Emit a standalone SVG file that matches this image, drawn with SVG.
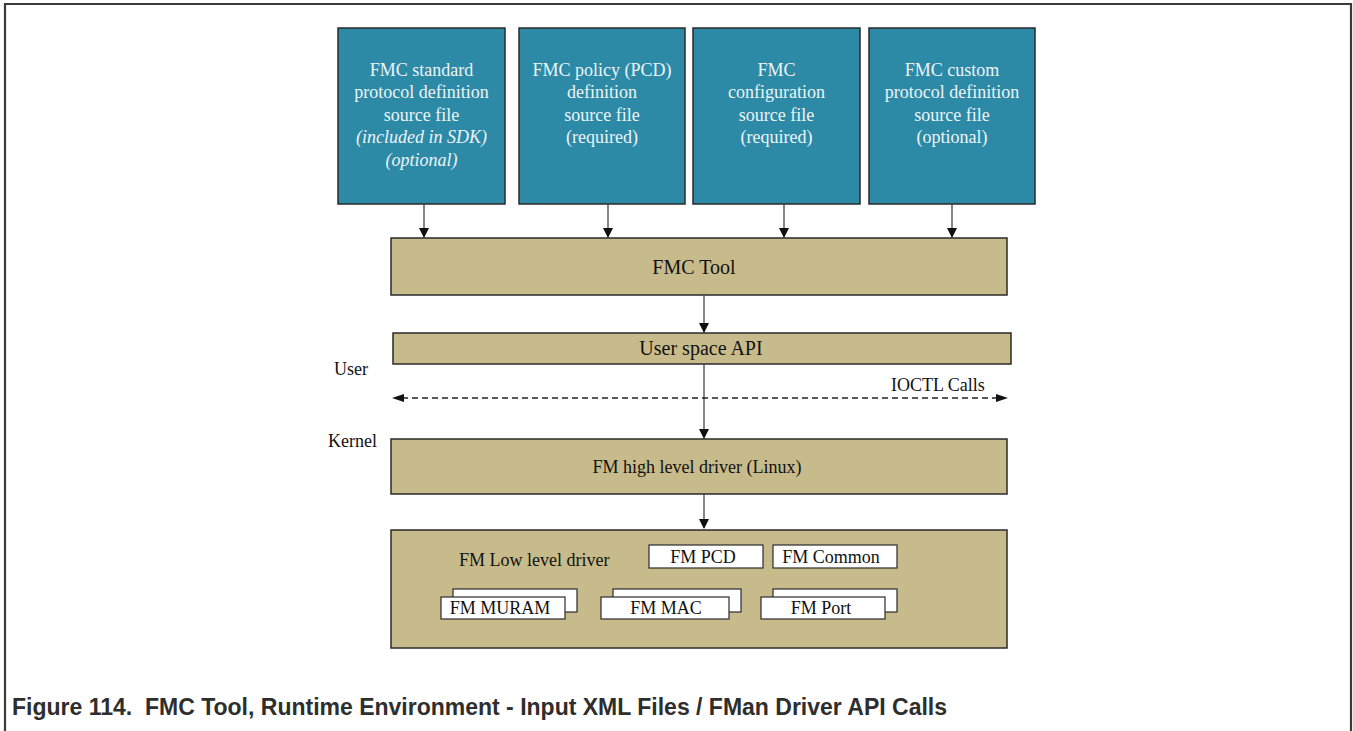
<svg xmlns="http://www.w3.org/2000/svg" width="1353" height="731" viewBox="0 0 1353 731">
<style>
.src{fill:#2c8aa7;stroke:#2a2a2a;stroke-width:1.5}
.tan{fill:#c8bb8b;stroke:#2a2a2a;stroke-width:1.5}
.wb{fill:#ffffff;stroke:#2a2a2a;stroke-width:1.2}
.st{font-family:"Liberation Serif","Times New Roman",serif;font-size:18px;fill:#eef4f6;text-anchor:middle}
.it{font-style:italic}
.t{font-family:"Liberation Serif","Times New Roman",serif;font-size:18px;fill:#111;text-anchor:middle}
.big{font-size:20px}
.tl{font-family:"Liberation Serif","Times New Roman",serif;font-size:18px;fill:#111}
.cap{font-family:"Liberation Sans",Arial,sans-serif;font-size:23px;font-weight:bold;fill:#2e2e2e}
.ln{stroke:#444;stroke-width:1.3;fill:none}
.dash{stroke:#222;stroke-width:1.3;fill:none;stroke-dasharray:6 4}
</style>
<defs>
<marker id="ah" markerWidth="10" markerHeight="12" refX="9" refY="5" orient="auto" markerUnits="userSpaceOnUse">
<path d="M0,0 L10,5 L0,10 Z" fill="#111"/>
</marker>
</defs>
<g id="frame">
<path d="M5,731 L5,4 L1351,4 L1351,731" fill="none" stroke="#3a3a3a" stroke-width="2.2"/>
</g>
<g id="src1">
<rect class="src" x="338" y="28" width="167" height="176"/>
<text class="st" x="421.5" y="76">FMC standard</text>
<text class="st" x="421.5" y="98">protocol definition</text>
<text class="st" x="421.5" y="121">source file</text>
<text class="st it" x="421.5" y="143">(included in SDK)</text>
<text class="st it" x="421.5" y="166">(optional)</text>
</g>
<g id="src2">
<rect class="src" x="519" y="28" width="166" height="176"/>
<text class="st" x="602" y="76">FMC policy (PCD)</text>
<text class="st" x="602" y="98">definition</text>
<text class="st" x="602" y="121">source file</text>
<text class="st" x="602" y="143">(required)</text>
</g>
<g id="src3">
<rect class="src" x="693" y="28" width="167" height="176"/>
<text class="st" x="776.5" y="76">FMC</text>
<text class="st" x="776.5" y="98">configuration</text>
<text class="st" x="776.5" y="121">source file</text>
<text class="st" x="776.5" y="143">(required)</text>
</g>
<g id="src4">
<rect class="src" x="869" y="28" width="166" height="176"/>
<text class="st" x="952" y="76">FMC custom</text>
<text class="st" x="952" y="98">protocol definition</text>
<text class="st" x="952" y="121">source file</text>
<text class="st" x="952" y="143">(optional)</text>
</g>
<g id="fmctool">
<rect class="tan" x="391" y="238" width="616" height="57"/>
<text class="t big" x="694" y="274">FMC Tool</text>
</g>
<g id="userapi">
<rect class="tan" x="393" y="333" width="618" height="31"/>
<text class="t big" x="701" y="355">User space API</text>
</g>
<g id="labels">
<text class="tl" x="334" y="375">User</text>
<text class="tl" x="328" y="447">Kernel</text>
<text class="tl" x="891" y="391">IOCTL Calls</text>
</g>
<g id="highdrv">
<rect class="tan" x="391" y="439" width="616" height="55"/>
<text class="t" x="697" y="473">FM high level driver (Linux)</text>
</g>
<g id="lowdrv">
<rect class="tan" x="391" y="530" width="616" height="118"/>
<text class="tl" x="459" y="566">FM Low level driver</text>
</g>
<g id="fmpcd">
<rect class="wb" x="649" y="545" width="114" height="23"/>
<text class="t" x="703" y="563">FM PCD</text>
</g>
<g id="fmcommon">
<rect class="wb" x="773" y="545" width="124" height="23"/>
<text class="t" x="831" y="563">FM Common</text>
</g>
<g id="fmmuram">
<rect class="wb" x="453" y="589" width="124" height="23"/>
<rect class="wb" x="441" y="597" width="124" height="22"/>
<text class="t" x="500" y="614">FM MURAM</text>
</g>
<g id="fmmac">
<rect class="wb" x="613" y="589" width="128" height="23"/>
<rect class="wb" x="601" y="597" width="128" height="22"/>
<text class="t" x="666" y="614">FM MAC</text>
</g>
<g id="fmport">
<rect class="wb" x="773" y="589" width="124" height="23"/>
<rect class="wb" x="761" y="597" width="124" height="22"/>
<text class="t" x="821" y="614">FM Port</text>
</g>
<g id="connectors">
<line class="ln" x1="424" y1="204" x2="424" y2="237" marker-end="url(#ah)"/>
<line class="ln" x1="608" y1="204" x2="608" y2="237" marker-end="url(#ah)"/>
<line class="ln" x1="784" y1="204" x2="784" y2="237" marker-end="url(#ah)"/>
<line class="ln" x1="952" y1="204" x2="952" y2="237" marker-end="url(#ah)"/>
<line class="ln" x1="704" y1="295" x2="704" y2="332" marker-end="url(#ah)"/>
<line class="ln" x1="704" y1="364" x2="704" y2="438" marker-end="url(#ah)"/>
<line class="ln" x1="704" y1="494" x2="704" y2="528" marker-end="url(#ah)"/>
<line class="dash" x1="402" y1="398" x2="998" y2="398"/>
<path d="M392,398 L404,394 L404,402 Z" fill="#111"/>
<path d="M1008,398 L996,394 L996,402 Z" fill="#111"/>
</g>
<g id="caption">
<text class="cap" x="12" y="715">Figure 114.&#160; FMC Tool, Runtime Environment - Input XML Files / FMan Driver API Calls</text>
</g>
</svg>
